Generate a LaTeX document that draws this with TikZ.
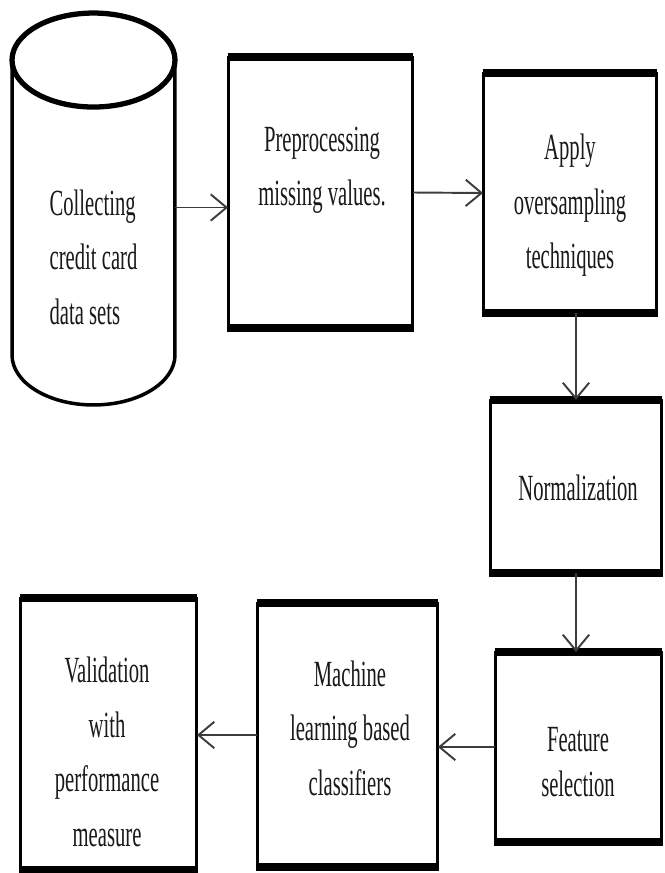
\documentclass[tikz,border=0pt]{standalone}
\usepackage{fontspec}
\newfontfamily\boxfont[FakeStretch=0.56]{Liberation Serif}
\usepackage{tikz}
\usetikzlibrary{arrows.meta}
\usepackage{xcolor}
\definecolor{inkgrey}{RGB}{25,25,25}
\definecolor{wiregrey}{RGB}{60,60,60}

\begin{document}
\begin{tikzpicture}[x=0.02cm,y=-0.02cm,
    stage/.style={draw=black,line width=1.7pt,inner sep=0pt,outer sep=0pt},
    caption/.style={align=center,text=inkgrey,
      font={\boxfont\fontsize{21}{31}\selectfont}},
    flow/.style={-{Straight Barb[length=9pt,width=15pt]},line width=1.1pt,wiregrey}]
  \useasboundingbox (0,0) rectangle (665,873);
  % data source (cylinder)
  \node[inner sep=0pt,outer sep=0pt,minimum width=3.26cm,minimum height=5.9cm]
    (data) at (93.5,207.5) {};
  \draw[line width=2pt] (data.north west) -- (data.south west)
    arc[start angle=180,end angle=360,x radius=1.63cm,y radius=1cm]
    -- (data.north east);
  \draw[line width=3pt,fill=white] (data.north) ellipse[x radius=1.63cm,y radius=0.94cm];
  \node[caption,align=left] at (93.5,257) {Collecting\\credit card\\data sets};
  % processing steps
  \node[stage,minimum width=3.7cm,minimum height=5.42cm] (prep) at (320.5,192.5) {};
  \node[stage,minimum width=3.48cm,minimum height=4.8cm] (over) at (570,193) {};
  \node[stage,minimum width=3.44cm,minimum height=3.46cm] (norm) at (576,486.5) {};
  \node[stage,minimum width=3.34cm,minimum height=3.8cm] (feat) at (578.5,747) {};
  \node[stage,minimum width=3.62cm,minimum height=5.28cm] (clf) at (347.5,735) {};
  \node[stage,minimum width=3.54cm,minimum height=5.44cm] (valid) at (108.5,734) {};
  % heavy top and bottom rules
  \foreach \n in {prep,over,norm,feat,clf,valid}
    \draw[line width=4.5pt,shorten <=-0.85pt,shorten >=-0.85pt]
      (\n.north west) -- (\n.north east) (\n.south west) -- (\n.south east);
  % box texts
  \node[caption] at (322,170.5) {Preprocessing\\missing values.};
  \node[caption] at (570,205.5) {Apply\\oversampling\\techniques};
  \node[caption] at (578,488) {Normalization};
  \node[caption,font={\boxfont\fontsize{21}{25.5}\selectfont}] at (578,762) {Feature\\selection};
  \node[caption] at (350,728) {Machine\\learning based\\classifiers};
  \node[caption] at (107,752) {Validation\\with\\performance\\measure};
  % connectors
  \draw[flow] (data.east) -- (data.east -| prep.west);
  \draw[flow] (prep.east) -- (over.west);
  \draw[flow] (norm.north |- over.south) -- (norm.north);
  \draw[flow] (norm.south) -- (norm.south |- feat.north);
  \draw[flow] (feat.west) -- (feat.west -| clf.east);
  \draw[flow] (clf.west) -- (clf.west -| valid.east);
\end{tikzpicture}
\end{document}
